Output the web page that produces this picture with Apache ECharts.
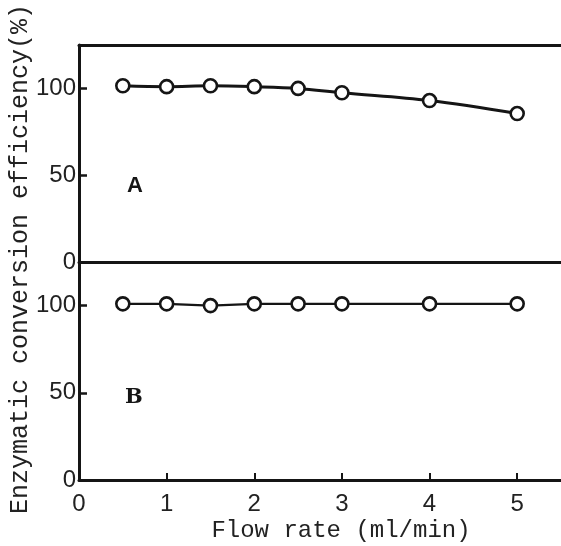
<!DOCTYPE html>
<html>
<head>
<meta charset="utf-8">
<script src="https://cdn.jsdelivr.net/npm/echarts@6/dist/echarts.min.js"></script>
<style>
  html, body { margin: 0; padding: 0; background: #fff; }
  #chart { width: 561px; height: 546px; }
</style>
</head>
<body>
<div id="chart"></div>
<script>
// Flow rate (ml/min) at which each run was sampled
const flowRate = [0.5, 1, 1.5, 2, 2.5, 3, 4, 5];
// Panel A: conversion efficiency (%)
const efficiencyA = [101.5, 101, 101.5, 101, 100, 97.5, 93, 85.5];
// Panel B: conversion efficiency (%)
const efficiencyB = [101, 101, 100, 101, 101, 101, 101, 101];
// Axis ranges and tick steps
const xRange = [0, 5.5], xStep = 1;
const yRange = [0, 125], yStep = 50;
const panelNames = ['A', 'B'];

const ink = '#151515';
const tickFont = { fontFamily: 'Liberation Sans', fontSize: 24, color: '#222' };
const monoFont = 'Liberation Mono';

function pairs(xs, ys) { return xs.map((x, i) => [x, ys[i]]); }

function xAxisFor(gridIndex, showLabels, position) {
  return {
    type: 'value', gridIndex, position, min: xRange[0], max: xRange[1], interval: xStep,
    axisLine: { show: true, onZero: false, lineStyle: { color: ink, width: 3 } },
    axisTick: { show: showLabels, inside: true, length: 7, lineStyle: { color: ink, width: 2 } },
    axisLabel: Object.assign({ show: showLabels, margin: 12, showMaxLabel: false,
      formatter: v => (Number.isInteger(v) ? String(v) : '') }, tickFont),
    splitLine: { show: false }
  };
}
function yAxisFor(gridIndex) {
  return {
    type: 'value', gridIndex, min: yRange[0], max: yRange[1], interval: yStep,
    axisLine: { show: true, lineStyle: { color: ink, width: 3 } },
    axisTick: { show: true, inside: true, length: 8, lineStyle: { color: ink, width: 2.5 } },
    axisLabel: Object.assign({ margin: 3, showMaxLabel: false,
      formatter: v => (v % yStep === 0 ? String(v) : '') }, tickFont),
    splitLine: { show: false }
  };
}
function seriesFor(idx, values, smooth, width) {
  return {
    type: 'line', xAxisIndex: idx, yAxisIndex: idx,
    data: pairs(flowRate, values), smooth,
    symbol: 'circle', symbolSize: 13,
    itemStyle: { color: '#fff', borderColor: ink, borderWidth: 2.6 },
    lineStyle: { color: ink, width },
    z: 3
  };
}
function panelTitle(text, left, top, family, size) {
  return { text, left, top, padding: 0, textStyle: { fontFamily: family, fontWeight: 900, fontSize: size, color: ink } };
}

const chart = echarts.init(document.getElementById('chart'), null, { renderer: 'canvas' });
chart.setOption({
  backgroundColor: '#fff',
  animation: false,
  title: [
    panelTitle(panelNames[0], 127, 175, 'Liberation Sans', 22),
    panelTitle(panelNames[1], 125, 387, 'DejaVu Serif', 21)
  ],
  grid: [
    { left: 79, top: 45, width: 482, height: 217 },
    { left: 79, top: 262, width: 482, height: 218 }
  ],
  xAxis: [xAxisFor(0, false, 'bottom'), xAxisFor(1, true, 'bottom'), xAxisFor(0, false, 'top')],
  yAxis: [yAxisFor(0), yAxisFor(1)],
  series: [
    seriesFor(0, efficiencyA, 0.35, 3),
    seriesFor(1, efficiencyB, false, 2.2)
  ],
  graphic: [
    { type: 'text', x: 20, y: 259, rotation: Math.PI / 2,
      style: { text: 'Enzymatic conversion efficiency(%)', fontFamily: monoFont, fontSize: 25, fill: '#222', align: 'center', verticalAlign: 'middle' } },
    { type: 'text', x: 341, y: 531,
      style: { text: 'Flow rate (ml/min)', fontFamily: monoFont, fontSize: 24, fill: '#222', align: 'center', verticalAlign: 'middle' } }
  ]
});
</script>
</body>
</html>
